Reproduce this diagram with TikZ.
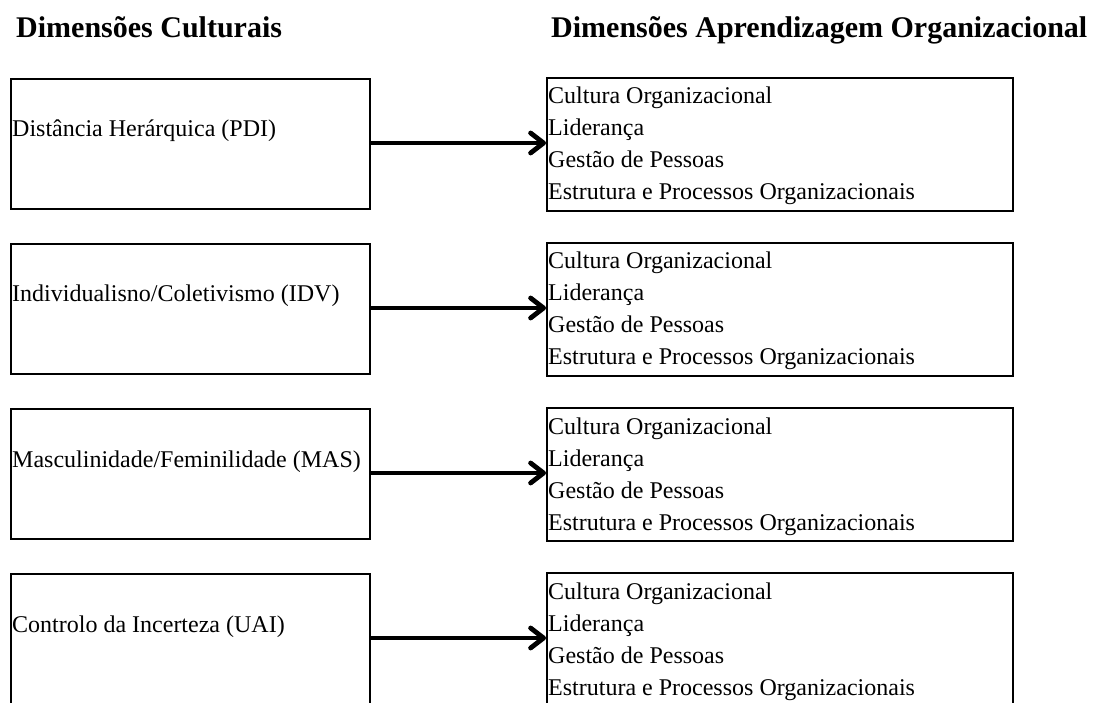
\documentclass[tikz,border=0pt]{standalone}
\usepackage{fontspec}
\setmainfont{Liberation Serif}
\usetikzlibrary{arrows.meta}
\begin{document}
\begin{tikzpicture}[x=1pt,y=-1pt,
  dimbox/.style={draw,line width=1.8pt,inner sep=0pt,anchor=north west},
  body/.style={anchor=base west,inner sep=0pt,font=\fontsize{24}{29}\selectfont},
  head/.style={anchor=base west,inner sep=0pt,font=\fontsize{30}{36}\selectfont\bfseries},
  link/.style={line width=4.8pt,-{Straight Barb[length=13pt,width=20pt,line cap=round,line join=round]}}]
\useasboundingbox (0,0) rectangle (1093,703);
\begin{scope}
\clip (0,0) rectangle (1093,703);
\node[head] (h1) at (16,38) {Dimensões Culturais};
\node[head] (h2) at (551,38) {Dimensões Aprendizagem Organizacional};
% one row per cultural dimension: top edge, extra height of the boxes, label
\foreach \i/\t/\ex/\name in {1/78/0/{Distância Herárquica (PDI)},
                             2/243/0/{Individualisno/Coletivismo (IDV)},
                             3/408/0/{Masculinidade/Feminilidade (MAS)},
                             4/573/20/{Controlo da Incerteza (UAI)}}{
  \node[dimbox,minimum width=359pt,minimum height={130pt+\ex pt}] (L\i) at (10,\t) {};
  \node[body] (T\i) at (12,\t+59) {\name};
  \node[dimbox,minimum width=466pt,minimum height={133pt+\ex pt}] (R\i) at (546,\t-1) {};
  \node[body] (A\i) at (548,\t+26) {Cultura Organizacional};
  \node[body] (B\i) at (548,\t+58) {Liderança};
  \node[body] (C\i) at (548,\t+90) {Gestão de Pessoas};
  \node[body] (D\i) at (548,\t+122) {Estrutura e Processos Organizacionais};
  \coordinate (E\i) at (L\i.east |- 0,{\t+65});
  \draw[link] (E\i) -- (R\i.west |- E\i);
}
\end{scope}
\end{tikzpicture}
\end{document}
